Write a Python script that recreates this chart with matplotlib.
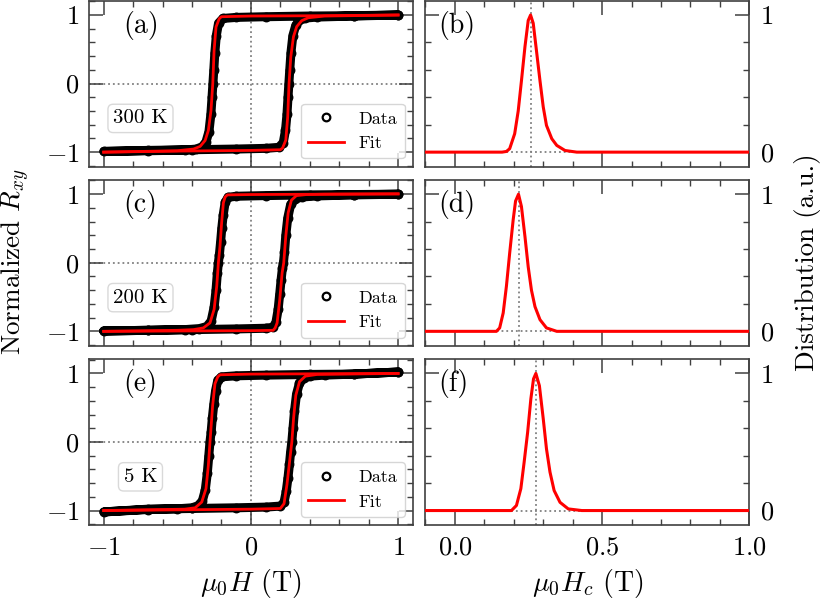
import matplotlib
matplotlib.use('Agg')
import matplotlib.pyplot as plt
from matplotlib.ticker import MultipleLocator

plt.rcParams['font.family'] = 'serif'
plt.rcParams['font.serif'] = ['cmr10']
plt.rcParams['mathtext.fontset'] = 'cm'
plt.rcParams['axes.formatter.use_mathtext'] = True

# ---- hysteresis data, one loop per temperature ----
temps = ['300 K', '200 K', '5 K']
left_tags = ['(a)', '(c)', '(e)']
right_tags = ['(b)', '(d)', '(f)']

# 300 K
a_data_h = [1.0, 0.7, 0.4, 0.1, -0.1, -0.19, -0.22, -0.235, -0.245, -0.252, -0.258, -0.264, -0.272, -0.285, -0.305, -0.33, -0.37, -0.45, -0.7, -1.0,
            -0.7, -0.4, -0.1, 0.1, 0.19, 0.22, 0.235, 0.245, 0.252, 0.258, 0.264, 0.272, 0.285, 0.305, 0.33, 0.37, 0.45, 0.7, 1.0]
a_data_r = [1.0, 0.99, 0.985, 0.975, 0.965, 0.95, 0.88, 0.7, 0.45, 0.2, 0.0, -0.2, -0.45, -0.7, -0.85, -0.92, -0.955, -0.97, -0.98, -0.99,
            -0.975, -0.965, -0.955, -0.945, -0.93, -0.86, -0.68, -0.45, -0.2, 0.0, 0.2, 0.45, 0.7, 0.85, 0.92, 0.955, 0.97, 0.985, 1.0]
a_fit_dn_h = [1.0, 0.5, 0.0, -0.2, -0.215, -0.237, -0.25, -0.259, -0.271, -0.289, -0.311, -0.345, -0.39, -0.5, -1.0]
a_fit_dn_r = [1.0, 0.99, 0.985, 0.975, 0.947, 0.825, 0.485, 0.0, -0.39, -0.683, -0.83, -0.917, -0.955, -0.98, -1.0]
a_fit_up_h = [-1.0, -0.5, 0.0, 0.2, 0.215, 0.237, 0.25, 0.259, 0.271, 0.289, 0.311, 0.345, 0.39, 0.5, 1.0]
a_fit_up_r = [-1.0, -0.985, -0.975, -0.965, -0.94, -0.825, -0.485, 0.0, 0.39, 0.683, 0.83, 0.917, 0.96, 0.985, 1.0]

# 200 K
c_data_h = [1.0, 0.7, 0.4, 0.1, -0.1, -0.155, -0.175, -0.188, -0.198, -0.206, -0.214, -0.221, -0.228, -0.237, -0.25, -0.27, -0.3, -0.35, -0.45, -0.7, -1.0,
            -0.7, -0.4, -0.1, 0.1, 0.15, 0.17, 0.185, 0.196, 0.205, 0.214, 0.221, 0.228, 0.237, 0.25, 0.27, 0.3, 0.35, 0.45, 0.7, 1.0]
c_data_r = [1.0, 0.995, 0.99, 0.98, 0.97, 0.955, 0.88, 0.7, 0.5, 0.3, 0.12, 0.0, -0.15, -0.4, -0.65, -0.85, -0.93, -0.96, -0.975, -0.985, -0.995,
            -0.985, -0.975, -0.965, -0.955, -0.94, -0.87, -0.68, -0.45, -0.25, -0.08, 0.0, 0.15, 0.4, 0.65, 0.85, 0.93, 0.96, 0.975, 0.99, 1.0]
c_fit_dn_h = [1.0, 0.5, 0.0, -0.16, -0.175, -0.187, -0.199, -0.21, -0.221, -0.232, -0.25, -0.278, -0.323, -0.39, -0.5, -1.0]
c_fit_dn_r = [1.005, 1.0, 0.995, 0.99, 0.96, 0.874, 0.58, 0.24, 0.0, -0.34, -0.68, -0.877, -0.95, -0.975, -0.985, -1.0]
c_fit_up_h = [-1.0, -0.5, 0.0, 0.151, 0.165, 0.178, 0.196, 0.212, 0.223, 0.237, 0.253, 0.275, 0.309, 0.377, 0.5, 1.0]
c_fit_up_r = [-1.0, -0.995, -0.99, -0.985, -0.95, -0.877, -0.537, -0.148, 0.0, 0.387, 0.728, 0.912, 0.98, 0.995, 1.0, 1.005]

# 5 K
e_data_h = [1.0, 0.7, 0.4, 0.1, -0.1, -0.2, -0.225, -0.24, -0.252, -0.262, -0.27, -0.278, -0.286, -0.296, -0.31, -0.33, -0.36, -0.4, -0.5, -0.7, -1.0,
            -0.7, -0.4, -0.1, 0.1, 0.2, 0.225, 0.24, 0.252, 0.262, 0.27, 0.278, 0.286, 0.296, 0.31, 0.33, 0.36, 0.4, 0.5, 0.7, 1.0]
e_data_r = [1.02, 0.99, 0.985, 0.975, 0.965, 0.95, 0.9, 0.75, 0.55, 0.35, 0.15, 0.0, -0.2, -0.45, -0.7, -0.86, -0.93, -0.96, -0.975, -0.985, -1.02,
            -0.98, -0.97, -0.96, -0.95, -0.935, -0.88, -0.72, -0.52, -0.32, -0.14, 0.0, 0.2, 0.45, 0.7, 0.86, 0.93, 0.96, 0.975, 0.99, 1.02]
e_fit_dn_h = [1.0, 0.5, 0.0, -0.21, -0.225, -0.244, -0.26, -0.278, -0.289, -0.305, -0.334, -0.379, -0.45, -1.0]
e_fit_dn_r = [1.0, 0.995, 0.99, 0.98, 0.95, 0.85, 0.53, 0.0, -0.34, -0.68, -0.877, -0.96, -0.98, -1.0]
e_fit_up_h = [-1.0, -0.5, 0.0, 0.2, 0.225, 0.245, 0.262, 0.278, 0.29, 0.305, 0.33, 0.37, 0.45, 1.0]
e_fit_up_r = [-1.0, -0.99, -0.98, -0.97, -0.9, -0.62, -0.3, 0.0, 0.35, 0.68, 0.88, 0.96, 0.985, 1.0]

# ---- switching-field distributions ----
b_hc = [-0.1, 0.16, 0.175, 0.186, 0.203, 0.215, 0.226, 0.238, 0.249, 0.257, 0.266, 0.277, 0.289, 0.300, 0.311, 0.329, 0.346, 0.374, 0.414, 1.0]
b_f = [0, 0, 0.005, 0.025, 0.134, 0.30, 0.52, 0.77, 0.96, 1.0, 0.94, 0.74, 0.52, 0.33, 0.195, 0.098, 0.049, 0.012, 0.0, 0.0]
d_hc = [-0.1, 0.141, 0.152, 0.164, 0.175, 0.186, 0.198, 0.206, 0.216, 0.226, 0.238, 0.249, 0.260, 0.272, 0.289, 0.311, 0.346, 1.0]
d_f = [0, 0, 0.025, 0.134, 0.33, 0.57, 0.815, 0.95, 1.0, 0.91, 0.69, 0.47, 0.30, 0.18, 0.085, 0.025, 0.0, 0.0]
f_hc = [-0.1, 0.192, 0.209, 0.224, 0.235, 0.247, 0.258, 0.267, 0.275, 0.287, 0.300, 0.311, 0.323, 0.337, 0.357, 0.385, 0.431, 1.0]
f_f = [0, 0, 0.037, 0.16, 0.35, 0.57, 0.815, 0.96, 1.0, 0.91, 0.67, 0.45, 0.28, 0.146, 0.06, 0.012, 0.0, 0.0]
peak_hc = [0.257, 0.216, 0.275]

loops = [(a_data_h, a_data_r, a_fit_dn_h, a_fit_dn_r, a_fit_up_h, a_fit_up_r),
         (c_data_h, c_data_r, c_fit_dn_h, c_fit_dn_r, c_fit_up_h, c_fit_up_r),
         (e_data_h, e_data_r, e_fit_dn_h, e_fit_dn_r, e_fit_up_h, e_fit_up_r)]
dists = [(b_hc, b_f), (d_hc, d_f), (f_hc, f_f)]

fig, axes = plt.subplots(3, 2, figsize=(8.3, 6.02), dpi=100)
fig.subplots_adjust(left=0.1072, right=0.9028, top=0.999, bottom=0.128,
                    hspace=0.08, wspace=0.039)

spine_c = '0.25'
for i in range(3):
    axl, axr = axes[i, 0], axes[i, 1]
    dh, dr, fdh, fdr, fuh, fur = loops[i]

    axl.axhline(0, color='gray', ls=':', lw=1.3, zorder=1)
    axl.axvline(0, color='gray', ls=':', lw=1.3, zorder=1)
    axl.plot(dh, dr, color='k', lw=6.5, solid_capstyle='round', solid_joinstyle='round', zorder=2)
    axl.plot(dh, dr, 'o', mfc='none', mec='k', mew=1.6, ms=5.5, label='Data', zorder=3)
    axl.plot(fdh, fdr, color='red', lw=2, label='Fit', zorder=4)
    axl.plot(fuh, fur, color='red', lw=2, zorder=4)
    axl.set_xlim(-1.1, 1.1)
    axl.set_ylim(-1.21, 1.21)
    axl.set_xticks([-1, 0, 1])
    axl.set_yticks([-1, 0, 1])
    axl.xaxis.set_minor_locator(MultipleLocator(0.2))
    axl.yaxis.set_minor_locator(MultipleLocator(0.2))
    axl.text(0.105, 0.85, left_tags[i], transform=axl.transAxes, fontsize=20, va='center')
    axl.text(0.159, 0.29, temps[i], transform=axl.transAxes, fontsize=15,
             ha='center', va='center',
             bbox=dict(boxstyle='round,pad=0.25', fc='white', ec='0.85', lw=1))
    axl.legend(loc='lower right', fontsize=13, borderaxespad=0.45)
    axl.tick_params(axis='y', which='both', pad=7)

    hc, f = dists[i]
    axr.axhline(0, color='gray', ls=':', lw=1.3, zorder=1)
    axr.axvline(peak_hc[i], color='gray', ls=':', lw=1.3, zorder=1)
    axr.plot(hc, f, color='red', lw=2.2, zorder=3)
    axr.set_xlim(-0.1, 1.0)
    axr.set_ylim(-0.105, 1.105)
    axr.set_xticks([0, 0.5, 1.0])
    axr.set_yticks([0, 1])
    axr.xaxis.set_minor_locator(MultipleLocator(0.1))
    axr.yaxis.set_minor_locator(MultipleLocator(0.2))
    axr.tick_params(axis='y', which='both', labelleft=False, labelright=True, pad=8)
    axr.text(0.038, 0.85, right_tags[i], transform=axr.transAxes, fontsize=20, va='center')

    for ax in (axl, axr):
        ax.tick_params(which='both', direction='in', top=True, right=True,
                       color=spine_c, labelsize=19)
        ax.tick_params(which='major', length=10, width=1.1)
        ax.tick_params(which='minor', length=4.5, width=1.0)
        ax.tick_params(axis='x', which='both', pad=8)
        for s in ax.spines.values():
            s.set_linewidth(1.2)
            s.set_color(spine_c)
        if i < 2:
            ax.tick_params(labelbottom=False)

axes[2, 0].set_xlabel(r'$\mu_0H$ (T)', fontsize=20, labelpad=5)
axes[2, 1].set_xlabel(r'$\mu_0H_c$ (T)', fontsize=20, labelpad=5)
fig.text(0.019, 0.565, r'Normalized $R_{xy}$', rotation=90, ha='center', va='center', fontsize=19.5)
fig.text(0.973, 0.565, 'Distribution (a.u.)', rotation=90, ha='center', va='center', fontsize=19.5)

fig.savefig('out.png', dpi=100)
